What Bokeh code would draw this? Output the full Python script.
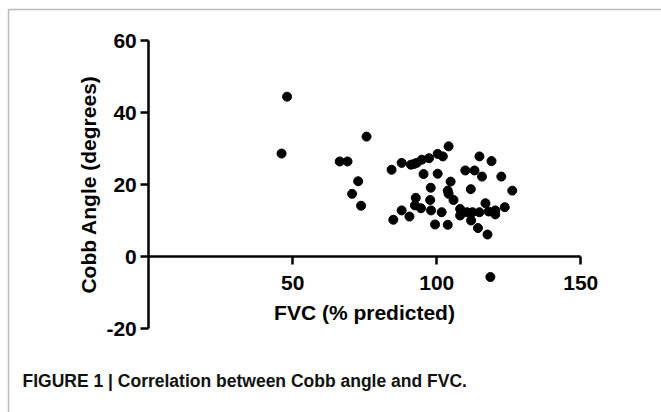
from bokeh.plotting import figure
from bokeh.models import FixedTicker, Range1d, Label, BoxAnnotation, ColumnDataSource, LinearAxis
from bokeh.embed import file_html
from bokeh.resources import INLINE

fvc = [48.0, 46.1, 66.3, 69.0, 75.6, 72.7, 70.6, 73.7,
       84.3, 87.8, 91.0, 92.1, 93.0, 94.8, 97.3, 100.3, 102.1, 104.1,
       95.4, 100.3, 104.8, 97.9, 103.8, 104.1, 105.8,
       92.7, 92.4, 94.5, 97.7, 98.0, 87.8, 90.5, 84.9,
       101.7, 99.4, 103.8, 108.1, 108.1, 110.5, 112.4, 111.9,
       114.3, 117.6, 114.8, 116.9, 118.0, 120.3, 120.3, 123.6,
       126.2, 109.9, 113.1, 115.7, 114.8, 119.0, 122.4, 111.8, 118.6]
cobb = [44.4, 28.6, 26.4, 26.4, 33.3, 20.9, 17.4, 14.1,
        24.1, 26.0, 25.5, 25.7, 26.0, 26.9, 27.3, 28.5, 27.8, 30.6,
        22.9, 23.0, 20.8, 19.1, 18.3, 17.4, 15.7,
        16.3, 14.2, 13.4, 15.7, 12.8, 12.8, 11.1, 10.2,
        12.3, 8.9, 8.8, 13.2, 11.4, 12.3, 12.3, 10.0,
        7.9, 6.1, 12.3, 14.8, 12.5, 12.8, 11.7, 13.7,
        18.3, 23.9, 23.9, 22.2, 27.8, 26.5, 22.2, 18.7, -5.7]

x_ticks = [50, 100, 150]
y_ticks = [-20, 0, 20, 40, 60]
x_label = "FVC (% predicted)"
y_label = "Cobb Angle (degrees)"
caption = "FIGURE 1 | Correlation between Cobb angle and FVC."

W, H = 661, 412
# layout: pixel where x=0 / y=0 sit, and pixels per unit
X0, SX = 148.3, 2.88
Y0, SY = 256.0, 3.6
x_start, x_end = -X0 / SX, (W - X0) / SX
y_end, y_start = Y0 / SY, -(H - Y0) / SY

p = figure(width=W, height=H, output_backend="svg", toolbar_location=None,
           x_range=Range1d(x_start, x_end), y_range=Range1d(y_start, y_end),
           min_border=0, x_axis_location=None, y_axis_location=None)
p.outline_line_color = None
p.grid.visible = False
p.background_fill_color = "white"
p.border_fill_color = "white"

src = ColumnDataSource(dict(x=fvc, y=cobb))
p.scatter("x", "y", source=src, size=9, color="black")

xa = LinearAxis(fixed_location=0)
ya = LinearAxis(fixed_location=0)
p.add_layout(xa, "below")
p.add_layout(ya, "left")

FONT = "Liberation Sans"
for ax in (xa, ya):
    ax.axis_line_width = 2.5
    ax.axis_line_color = "black"
    ax.major_tick_line_width = 2.5
    ax.major_tick_line_color = "black"
    ax.major_tick_in = 0
    ax.major_tick_out = 8
    ax.minor_tick_line_color = None
    ax.major_label_text_font = FONT
    ax.major_label_text_font_style = "bold"
    ax.major_label_text_font_size = "21px"
    ax.major_label_text_color = "black"
    ax.axis_label_text_font = FONT
    ax.axis_label_text_font_style = "bold"
    ax.axis_label_text_font_size = "21px"
    ax.axis_label_text_color = "black"

xa.ticker = FixedTicker(ticks=x_ticks)
xa.bounds = (0, 150)
xa.axis_label = x_label
xa.major_label_standoff = 11
xa.axis_label_standoff = 8

ya.ticker = FixedTicker(ticks=y_ticks)
ya.bounds = (-20, 60)
ya.axis_label = y_label
ya.major_label_standoff = 4
ya.axis_label_standoff = 3
ya.major_label_overrides = {t: str(t) for t in y_ticks}

# caption frame (left and top edges of the figure box)
box = BoxAnnotation(left=x_start + 8.0 / SX, top=y_end - 9.0 / SY,
                    right=x_end + 50, bottom=y_start - 50,
                    fill_color=None, line_color="#222222", line_width=1.5,
                    level="overlay")
p.add_layout(box)

cap = Label(x=22, y=H - 380, x_units="screen", y_units="screen", text=caption,
            text_font=FONT, text_font_style="bold", text_font_size="17.5px",
            text_color="#111111", text_baseline="alphabetic")
p.add_layout(cap)

open("out.html", "w").write(file_html(p, INLINE))
